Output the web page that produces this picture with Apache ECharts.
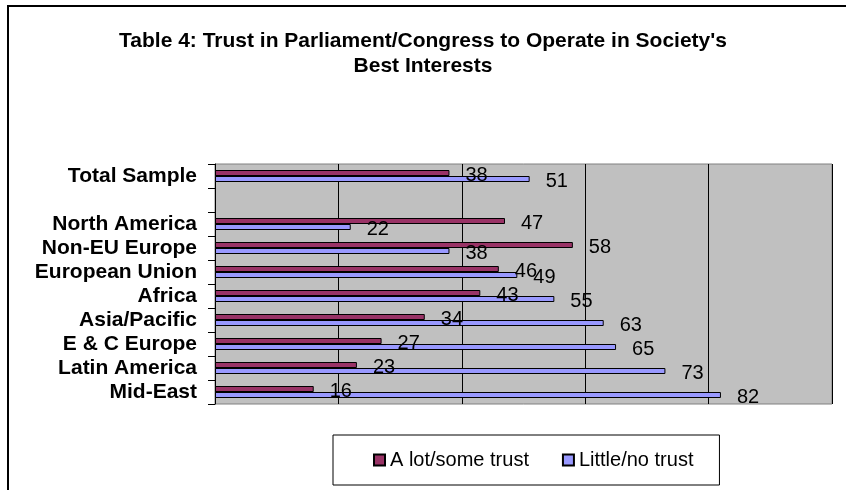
<!DOCTYPE html>
<html>
<head>
<meta charset="utf-8">
<script src="https://cdn.jsdelivr.net/npm/echarts@6/dist/echarts.min.js"></script>
<style>
html,body{margin:0;padding:0;background:#fff;}
#c{width:846px;height:490px;}
</style>
</head>
<body>
<div id="c"></div>
<script>
var categories = ['Total Sample', '', 'North America', 'Non-EU Europe', 'European Union', 'Africa', 'Asia/Pacific', 'E & C Europe', 'Latin America', 'Mid-East'];
var lotSomeTrust = [38, null, 47, 58, 46, 43, 34, 27, 23, 16];
var littleNoTrust = [51, null, 22, 38, 49, 55, 63, 65, 73, 82];
var seriesNames = ['A lot/some trust', 'Little/no trust'];
var titleText = "Table 4: Trust in Parliament/Congress to Operate in Society's\nBest Interests";

var FONT = "'Liberation Sans', Arial, sans-serif";
var chart = echarts.init(document.getElementById('c'), null, {renderer: 'canvas'});

function barLabel() {
  return {
    show: true, position: 'right', distance: 16, offset: [0, 2],
    color: '#000', fontFamily: FONT, fontSize: 20,
    formatter: function (p) { return p.value == null ? '' : p.value; }
  };
}

chart.setOption({
  backgroundColor: '#fff',
  animation: false,
  graphic: [{
    type: 'rect', silent: true, z: -10,
    shape: {x: 8, y: 6, width: 900, height: 600},
    style: {fill: 'none', stroke: '#000', lineWidth: 2}
  }],
  title: {
    text: titleText, left: 'center', top: 24,
    textStyle: {fontFamily: FONT, fontSize: 21, fontWeight: 'bold', color: '#000', lineHeight: 25}
  },
  legend: {
    data: seriesNames, left: 333, top: 435,
    padding: [15, 26, 15, 40], itemGap: 33, itemWidth: 11, itemHeight: 11,
    icon: 'rect', borderColor: '#000', borderWidth: 1, backgroundColor: '#fff',
    textStyle: {fontFamily: FONT, fontSize: 20, color: '#000'}
  },
  grid: {
    left: 215, right: 14, top: 164, bottom: 86, containLabel: false,
    show: true, backgroundColor: '#c0c0c0', borderColor: '#808080', borderWidth: 1
  },
  xAxis: {
    type: 'value', min: 0, max: 100, interval: 20,
    axisLine: {show: false}, axisTick: {show: false}, axisLabel: {show: false},
    splitLine: {show: true, lineStyle: {color: '#000', width: 1}}
  },
  yAxis: {
    type: 'category', data: categories, inverse: true,
    axisLine: {show: true, lineStyle: {color: '#000', width: 1}},
    axisTick: {show: true, length: 7, inside: false, lineStyle: {color: '#000'}},
    axisLabel: {interval: 0, hideOverlap: false, margin: 18, color: '#000', fontFamily: FONT, fontSize: 21, fontWeight: 'bold'},
    splitLine: {show: false}
  },
  series: [{
    name: seriesNames[0], type: 'bar', data: lotSomeTrust,
    barGap: '0%', barCategoryGap: '50%',
    itemStyle: {color: '#993366', borderColor: '#000', borderWidth: 1},
    label: barLabel()
  }, {
    name: seriesNames[1], type: 'bar', data: littleNoTrust,
    barGap: '0%', barCategoryGap: '50%',
    itemStyle: {color: '#9999ff', borderColor: '#000', borderWidth: 1},
    label: barLabel()
  }]
});
</script>
</body>
</html>
